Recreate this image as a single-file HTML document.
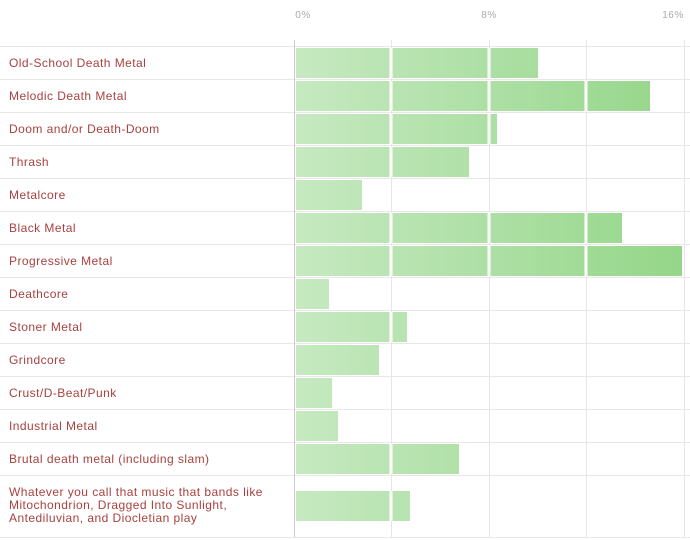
<!DOCTYPE html><html><head><style>body{margin:0;background:#fff}svg{display:block}text{font-family:"Liberation Sans",sans-serif}</style></head><body>
<svg width="690" height="540" xmlns="http://www.w3.org/2000/svg">
<defs><linearGradient id="g" gradientUnits="userSpaceOnUse" x1="295" y1="0" x2="684" y2="0"><stop offset="0" stop-color="#c6e9c1"/><stop offset="1" stop-color="#94d688"/></linearGradient></defs>
<g font-size="10" fill="#aaa" text-anchor="middle" letter-spacing="0.5"><text x="303" y="18">0%</text><text x="489" y="18">8%</text><text x="673" y="18">16%</text></g>
<g stroke="#e6e6e6" stroke-width="1">
<line x1="391.5" y1="40" x2="391.5" y2="537"/><line x1="489.5" y1="40" x2="489.5" y2="537"/><line x1="586.5" y1="40" x2="586.5" y2="537"/><line x1="684.5" y1="40" x2="684.5" y2="537"/>
</g>
<g id="rows" stroke="#e8e8e8"></g>
<g id="bars"></g>
<line x1="294.5" y1="40" x2="294.5" y2="537" stroke="#ccc"/>
<g id="labels" font-size="12" fill="#a8413f" letter-spacing="0.45"></g>
</svg>
<script>
(function(){
var names=["Old-School Death Metal","Melodic Death Metal","Doom and/or Death-Doom","Thrash","Metalcore","Black Metal","Progressive Metal","Deathcore","Stoner Metal","Grindcore","Crust/D-Beat/Punk","Industrial Metal","Brutal death metal (including slam)"];
var ends=[538,650,497,469,362,622,682,329,407,379,332,338,459,410];
var ns="http://www.w3.org/2000/svg",R=document.getElementById("rows"),B=document.getElementById("bars"),L=document.getElementById("labels");
function el(p,t,a,tx){var e=document.createElementNS(ns,t);for(var k in a)e.setAttribute(k,a[k]);if(tx)e.textContent=tx;p.appendChild(e);}
for(var i=0;i<14;i++){var ty=46+33*i;el(R,"line",{x1:0,x2:690,y1:ty+.5,y2:ty+.5});
var by=i<13?ty+2:491;el(B,"rect",{x:296,y:by,width:ends[i]-296,height:30,fill:"url(#g)"});
[391,489,586].forEach(function(gx){if(ends[i]>gx+1)el(B,"rect",{x:gx-1.5,y:by,width:3,height:30,fill:"#fff"});});
if(i<13)el(L,"text",{x:9,y:ty+21},names[i]);}
el(R,"line",{x1:0,x2:690,y1:537.5,y2:537.5});
["Whatever you call that music that bands like","Mitochondrion, Dragged Into Sunlight,","Antediluvian, and Diocletian play"].forEach(function(s,j){el(L,"text",{x:9,y:496+j*13},s)});
})();
</script></body></html>
